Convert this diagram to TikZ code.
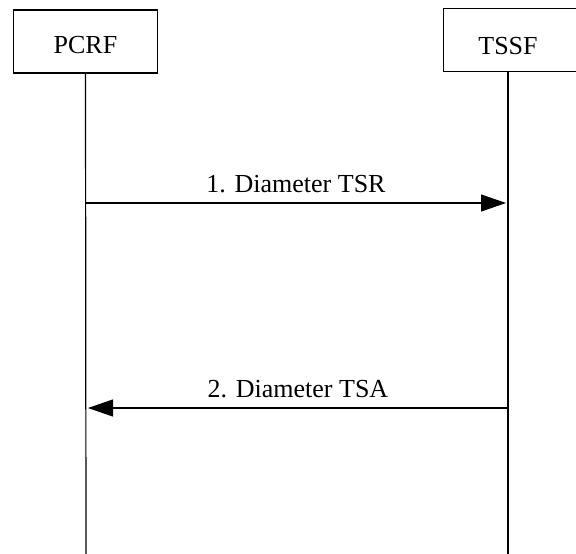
\documentclass[tikz,border=0pt]{standalone}
\usepackage{fontspec}
\setmainfont{Liberation Serif}
\usetikzlibrary{arrows.meta}
\begin{document}
\begin{tikzpicture}[x=1pt, y=-1pt, font=\fontsize{26}{30}\selectfont, line width=1.2pt,
		entity/.style={draw, minimum width=144pt, minimum height=63pt, inner sep=0pt, text height=25pt},
		msg/.style={-{Triangle[length=25pt, width=17pt]}},
		msglabel/.style={anchor=base, yshift=11pt}]
			% Khung ảnh
			\clip (0,0) rectangle (576,554);
			\useasboundingbox (0,0) rectangle (576,554);
			
			% Các thực thể
			\node[entity] (PCRF) at (85.5,41.5) {PCRF};
			\node[entity, draw=none, minimum width=128pt, minimum height=62pt, text height=30pt] (TSSF) at (508,40) {TSSF};
			\draw (TSSF.north west) rectangle ([xshift=20pt]TSSF.south east);
			
			% Đường sống
			\coordinate (PCRFend) at (86,554);
			\coordinate (TSSFend) at (508,554);
			\draw (PCRF.south) -- (PCRFend);
			\draw (TSSF.south) -- (TSSFend);
			
			% Các thông điệp
			\coordinate (p1) at (86,203);
			\coordinate (t1) at (506,203);
			\coordinate (p2) at (88,408);
			\coordinate (t2) at (508,408);
			\draw[msg] (p1) -- (t1) node[midway, msglabel] {1. Diameter TSR};
			\draw[msg] (t2) -- (p2) node[midway, msglabel] {2. Diameter TSA};
	\end{tikzpicture}
\end{document}
